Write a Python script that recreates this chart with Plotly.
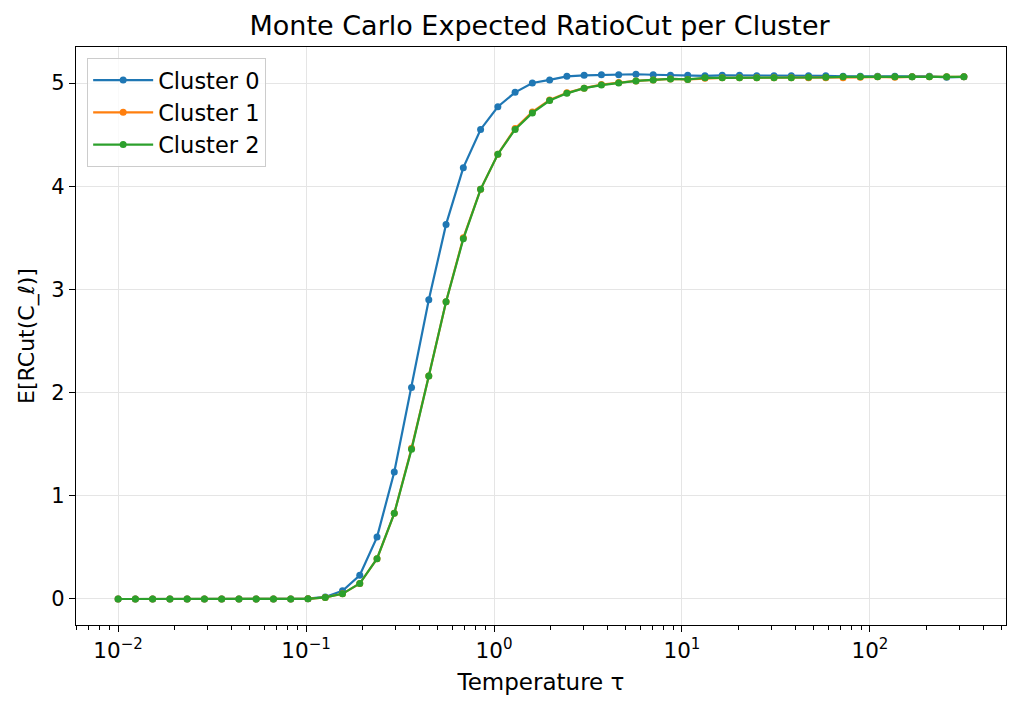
import numpy as np
import plotly.graph_objects as go

# Temperatures: 50 log-spaced values from 1e-2 to 10^2.5
tau = np.logspace(-2, 2.5, 50)

cluster0 = [0.0, 0.0, 0.0, 0.0, 0.0, 0.0, 0.0, 0.0, 0.0, 0.0,
            0.0, 0.003, 0.02, 0.08, 0.23, 0.60, 1.23, 2.05, 2.90, 3.63,
            4.18, 4.55, 4.77, 4.91, 5.00, 5.03, 5.065, 5.075, 5.08, 5.08,
            5.085, 5.08, 5.075, 5.075, 5.07, 5.075, 5.075, 5.07, 5.07, 5.07,
            5.07, 5.07, 5.065, 5.065, 5.065, 5.065, 5.06, 5.065, 5.055, 5.06]

cluster1 = [0.0, 0.0, 0.0, 0.0, 0.0, 0.0, 0.0, 0.0, 0.0, 0.0,
            0.0, 0.002, 0.015, 0.05, 0.15, 0.39, 0.83, 1.46, 2.16, 2.88,
            3.50, 3.97, 4.31, 4.56, 4.72, 4.835, 4.905, 4.95, 4.985, 5.005,
            5.02, 5.03, 5.04, 5.035, 5.045, 5.05, 5.05, 5.05, 5.05, 5.05,
            5.05, 5.05, 5.05, 5.055, 5.06, 5.055, 5.06, 5.06, 5.06, 5.06]

cluster2 = [0.0, 0.0, 0.0, 0.0, 0.0, 0.0, 0.0, 0.0, 0.0, 0.0,
            0.0, 0.002, 0.015, 0.05, 0.15, 0.39, 0.83, 1.45, 2.16, 2.88,
            3.49, 3.97, 4.31, 4.55, 4.71, 4.83, 4.90, 4.95, 4.98, 5.00,
            5.02, 5.03, 5.04, 5.035, 5.05, 5.05, 5.05, 5.05, 5.05, 5.05,
            5.055, 5.055, 5.06, 5.06, 5.06, 5.06, 5.06, 5.06, 5.06, 5.06]

series_names = ["Cluster 0", "Cluster 1", "Cluster 2"]
series_colors = ["#1f77b4", "#ff7f0e", "#2ca02c"]
x_tickvals = [0.01, 0.1, 1, 10, 100]
x_ticktext = ["10<sup>−2</sup>", "10<sup>−1</sup>", "10<sup>0</sup>", "10<sup>1</sup>", "10<sup>2</sup>"]
y_tickvals = [0, 1, 2, 3, 4, 5]

minor_vals = [m * 10.0 ** k for k in range(-3, 3) for m in range(2, 10)]

fig = go.Figure()
for name, vals, col in zip(series_names, [cluster0, cluster1, cluster2], series_colors):
    fig.add_trace(go.Scatter(x=tau, y=vals, mode="lines+markers", name=name,
                             line=dict(color=col, width=2.2),
                             marker=dict(color=col, size=7)))

font = "DejaVu Sans"
fig.update_layout(
    width=1020, height=711,
    paper_bgcolor="white", plot_bgcolor="white",
    margin=dict(l=76, r=14, t=47, b=86),
    font=dict(family=font, size=22, color="black"),
    title=dict(text="Monte Carlo Expected RatioCut per Cluster", x=0.529, xanchor="center",
               y=1 - 26 / 711, yanchor="middle", font=dict(size=27)),
    showlegend=True,
    legend=dict(x=0.012, y=0.981, xanchor="left", yanchor="top",
                bgcolor="rgba(255,255,255,0.8)", bordercolor="#cccccc", borderwidth=1,
                font=dict(size=22.5), tracegroupgap=0, itemwidth=60),
)
fig.update_xaxes(type="log", range=[-2.224, 2.724],
                 tickmode="array", tickvals=x_tickvals, ticktext=x_ticktext,
                 ticks="outside", ticklen=6, tickwidth=1.2, tickcolor="black",
                 showline=True, linecolor="black", linewidth=1.2, mirror=True,
                 showgrid=True, gridcolor="#e5e5e5", gridwidth=1,
                 minor=dict(tickmode="array", tickvals=minor_vals, ticks="outside",
                            ticklen=3.5, tickwidth=1, tickcolor="black", showgrid=False),
                 tickfont=dict(size=21.5),
                 title=dict(text="Temperature τ", font=dict(size=23), standoff=11),
                 zeroline=False)
fig.update_yaxes(range=[-0.252, 5.349], tickmode="array", tickvals=y_tickvals,
                 ticks="outside", ticklen=6, tickwidth=1.2, tickcolor="black",
                 showline=True, linecolor="black", linewidth=1.2, mirror=True,
                 showgrid=True, gridcolor="#e5e5e5", gridwidth=1,
                 tickfont=dict(size=21),
                 title=dict(text="E[RCut(C_ℓ)]", font=dict(size=22), standoff=10),
                 zeroline=False)

fig.write_html("out.html", config={"displayModeBar": False})
with open("out.html", "r", encoding="utf-8") as f:
    html = f.read()
html = html.replace("<body>", '<body style="margin:0;padding:0;overflow:hidden">', 1)
with open("out.html", "w", encoding="utf-8") as f:
    f.write(html)
